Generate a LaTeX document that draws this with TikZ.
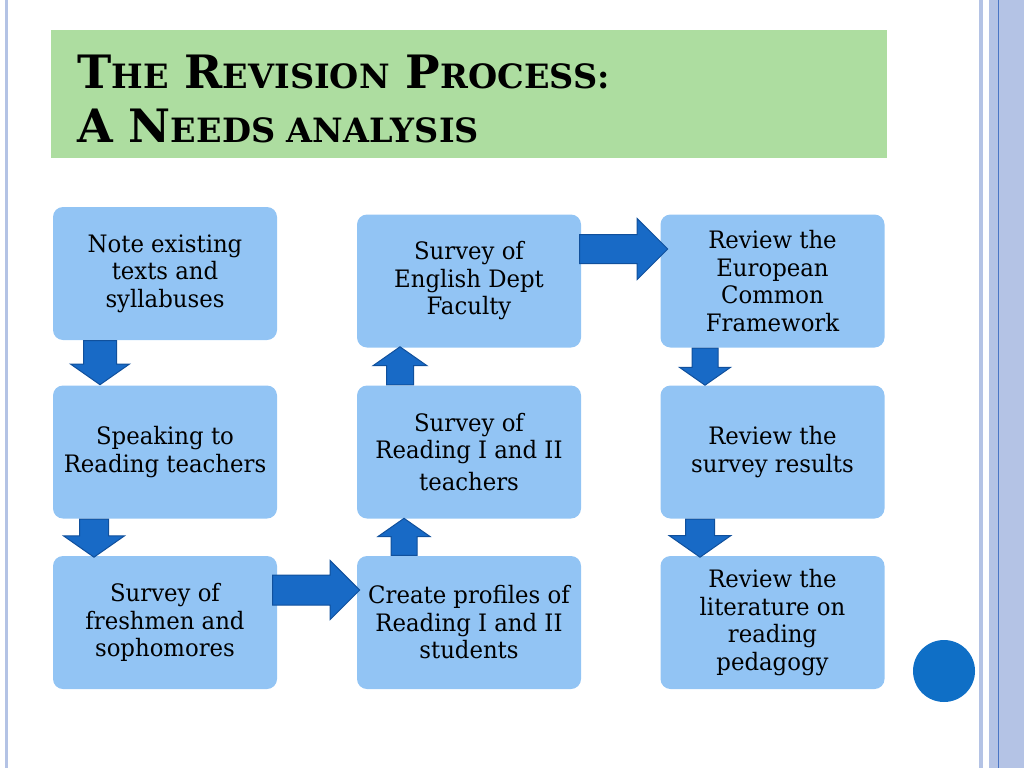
\documentclass[tikz,border=0pt]{standalone}
\usepackage{fontspec}
\newfontfamily\boxfont{DejaVu Serif}[FakeStretch=0.95]
\newfontfamily\titlefont{DejaVu Serif}
\newcommand\tbig{\fontsize{46}{50}\selectfont}
\newcommand\tsmall{\fontsize{33.5}{50}\selectfont}
\usetikzlibrary{shapes.arrows, calc}

\definecolor{boxblue}{RGB}{146,196,244}
\definecolor{arrowblue}{RGB}{24,106,198}
\definecolor{arrowedge}{RGB}{16,80,156}
\definecolor{dotblue}{RGB}{15,111,198}
\definecolor{titlegreen}{RGB}{173,221,160}
\definecolor{framelight}{RGB}{180,195,229}
\definecolor{frameline}{RGB}{74,117,196}

\tikzset{
    stagebox/.style={rectangle, rounded corners=10, fill=boxblue, minimum width=224, minimum height=133,
        align=center, inner sep=0, font=\boxfont\fontsize{24}{27.5}\selectfont},
    titletext/.style={anchor=base west, inner sep=0, font=\titlefont\bfseries\tbig},
    blockarrow/.style={single arrow, fill=arrowblue, draw=arrowedge, line width=1, inner sep=0,
        minimum width=0, anchor=tail},
    downarrow/.style={blockarrow, rotate=-90, single arrow tip angle=110},
    uparrow/.style={blockarrow, rotate=90, single arrow tip angle=110},
    rightarrow/.style={blockarrow, single arrow tip angle=90},
}

\begin{document}
\begin{tikzpicture}[x=1pt, y=-1pt]
    \useasboundingbox (0,0) rectangle (1024,768);

    % slide frame
    \fill[framelight] (5,0) rectangle (8,768);
    \fill[framelight] (979,0) rectangle (983,768);
    \fill[framelight] (989,0) rectangle (1024,768);
    \draw[frameline, line width=1] (998,0) -- (998,768);

    % title
    \fill[titlegreen] (51,30) rectangle (887,158);
    \node[titletext] (title1) at (77,88)
        {T{\tsmall HE} R{\tsmall EVISION} P{\tsmall ROCESS:}};
    \node[titletext] (title2) at (77,142)
        {A N{\tsmall EEDS ANALYSIS}};

    % boxes
    \node[stagebox] (note) at (165,273.5) {Note existing\\texts and\\syllabuses};
    \node[stagebox] (speak) at (165,452) {Speaking to\\Reading teachers};
    \node[stagebox] (fresh) at (165,622.5) {Survey of\\freshmen and\\sophomores};
    \node[stagebox] (faculty) at (469,281) {Survey of\\English Dept\\Faculty};
    \node[stagebox] (readsurv) at (469,452) {Survey of\\Reading I and II\\[4pt]teachers};
    \node[stagebox] (profiles) at (469,622.5) {Create profiles of\\Reading I and II\\students};
    \node[stagebox] (cefr) at (772.5,281) {Review the\\European\\Common\\Framework};
    \node[stagebox] (results) at (772.5,452) {Review the\\survey results};
    \node[stagebox] (lit) at (772.5,622.5) {Review the\\literature on\\reading\\pedagogy};

    % arrows
    \node[downarrow, minimum height=44, inner ysep=16, single arrow head extend=13] (note-speak)
        at ($(note.south)+(-65,0)$) {};
    \node[downarrow, minimum height=38, inner ysep=14, single arrow head extend=16] (speak-fresh)
        at ($(speak.south)+(-71,0)$) {};
    \node[rightarrow, minimum height=87, inner ysep=14.5, single arrow head extend=14.5] (fresh-profiles)
        at ($(fresh.east)+(-5,-32.5)$) {};
    \node[uparrow, minimum height=37, inner ysep=12.5, single arrow head extend=13] (profiles-readsurv)
        at ($(profiles.north)+(-65,0)$) {};
    \node[uparrow, minimum height=38, inner ysep=13, single arrow head extend=13.5] (readsurv-faculty)
        at ($(readsurv.north)+(-69,0)$) {};
    \node[rightarrow, minimum height=88, inner ysep=14, single arrow head extend=16] (faculty-cefr)
        at ($(faculty.east)+(-2,-32)$) {};
    \node[downarrow, minimum height=37, inner ysep=12.5, single arrow head extend=12.5] (cefr-results)
        at ($(cefr.south)+(-67.5,0)$) {};
    \node[downarrow, minimum height=38, inner ysep=14, single arrow head extend=16.5] (results-lit)
        at ($(results.south)+(-72.5,0)$) {};

    % dot
    \fill[dotblue] (944,671) circle (31);
\end{tikzpicture}
\end{document}
